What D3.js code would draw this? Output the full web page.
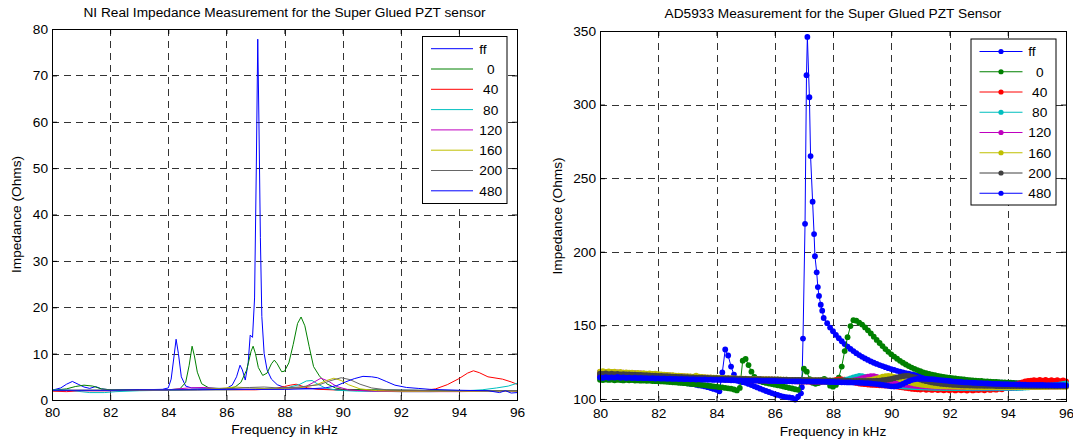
<!DOCTYPE html>
<html>
<head>
<meta charset="utf-8">
<title>Super Glued PZT sensor impedance</title>
<script src="https://cdn.jsdelivr.net/npm/d3@7"></script>
<style>
  body { margin: 0; background: #fff; }
  svg { display: block; font-family: "Liberation Sans", Arial, Helvetica, sans-serif; font-size: 13.7px; }
  .legend text { white-space: pre; }
</style>
</head>
<body>
<svg id="chart" width="1073" height="442"></svg>
<script>
// tick labels
const freqTicks = [80, 82, 84, 86, 88, 90, 92, 94, 96];
const niTicksY = [0, 10, 20, 30, 40, 50, 60, 70, 80];
const adTicksY = [100, 150, 200, 250, 300, 350];

// legend entries (padded like the original legend)
const seriesNames = ['ff', '  0', ' 40', ' 80', '120', '160', '200', '480'];

const niFF = [[80, 2.1], [80.3, 2.6], [80.5, 3.4], [80.7, 4.0], [80.9, 3.4], [81.1, 2.8], [81.3, 2.5], [81.5, 2.9],
  [81.7, 2.4], [82, 2.2], [83, 2.2], [83.8, 2.3], [84.0, 2.6], [84.1, 4.5], [84.2, 9.5], [84.27, 13.1], [84.35, 10],
  [84.45, 5], [84.6, 3], [84.8, 2.6], [85.5, 2.5], [86.0, 2.5], [86.2, 3.2], [86.35, 5.0], [86.47, 7.5], [86.55, 6.5],
  [86.65, 4.3], [86.75, 8], [86.82, 14], [86.9, 13.5], [86.97, 22], [87.03, 50], [87.08, 77.8], [87.12, 60],
  [87.17, 35], [87.22, 18], [87.3, 10], [87.4, 6.5], [87.55, 4.5], [87.75, 3.3], [88, 2.7], [89, 2.4], [90, 2.2],
  [91, 2.1], [92, 2.1], [94, 2.0], [96, 2.0]];
const niT0 = [[80, 2.1], [80.5, 2.4], [80.8, 2.9], [81.1, 3.2], [81.4, 3.0], [81.7, 2.4], [82, 2.2], [83, 2.2], [84, 2.2],
  [84.4, 2.4], [84.6, 3.8], [84.72, 7.5], [84.82, 11.6], [84.9, 9.5], [85.0, 6], [85.15, 3.5], [85.4, 2.6], [86, 2.4],
  [86.3, 2.8], [86.5, 3.8], [86.7, 6.5], [86.85, 10.5], [86.92, 11.6], [87.0, 10], [87.1, 7], [87.25, 5.3], [87.4, 5.8],
  [87.55, 7.8], [87.65, 8.6], [87.75, 7.8], [87.9, 6.1], [88.0, 6.2], [88.15, 8], [88.3, 12], [88.45, 16.5],
  [88.57, 17.9], [88.7, 16], [88.85, 11.5], [89.0, 7.2], [89.2, 5.2], [89.45, 3.5], [89.75, 2.6], [90, 2.3], [91, 2.2],
  [92, 2.1], [96, 2.0]];
const niT40 = [[80, 1.9], [80.5, 1.8], [81, 2.0], [82, 2.0], [83, 2.1], [84, 2.1], [85, 2.2], [86, 2.2], [87, 2.2],
  [87.6, 2.4], [88, 2.9], [88.2, 3.2], [88.4, 3.4], [88.6, 3.0], [88.8, 2.6], [89.2, 2.3], [90, 2.1], [91, 2.0], [92, 1.9],
  [92.8, 2.0], [93.2, 2.4], [93.6, 3.3], [94.0, 4.6], [94.3, 5.8], [94.5, 6.3], [94.7, 5.9], [95.0, 5.0], [95.5, 4.5],
  [95.8, 3.9], [96, 3.4]];
const niT80 = [[80, 2.2], [80.6, 2.1], [81.0, 1.8], [81.3, 1.6], [81.8, 1.6], [82.2, 1.8], [83, 2.0], [84, 2.1], [85, 2.2],
  [86, 2.2], [87, 2.3], [88, 2.5], [88.5, 3.3], [88.75, 4.1], [88.95, 4.2], [89.15, 3.4], [89.4, 2.6], [89.8, 2.1],
  [90.5, 1.9], [92, 1.8], [93, 1.8], [94, 1.9], [94.8, 2.2], [95.3, 2.6], [95.7, 3.0], [96, 3.6]];
const niT120 = [[80, 2.0], [81, 2.0], [82, 2.0], [83, 2.1], [84, 2.2], [84.7, 2.6], [85.2, 2.7], [85.8, 2.4], [86.5, 2.3],
  [87.5, 2.3], [88.2, 2.4], [88.7, 2.8], [89.0, 3.8], [89.25, 4.7], [89.5, 4.1], [89.8, 2.9], [90.2, 2.2], [91, 1.9],
  [92, 1.8], [93, 1.8], [94, 1.8], [95, 1.9], [96, 1.9]];
const niT160 = [[80, 2.0], [81, 2.1], [82, 2.1], [83, 2.1], [84, 2.2], [85, 2.2], [85.8, 2.5], [86.3, 2.8], [86.8, 2.6],
  [87.5, 2.4], [88.5, 2.6], [89.1, 3.3], [89.45, 4.2], [89.7, 4.7], [89.95, 4.2], [90.2, 3.3], [90.6, 2.4], [91.2, 2.0],
  [92, 1.9], [93, 1.9], [94, 1.9], [95, 1.9], [96, 1.9]];
const niT200 = [[80, 2.1], [81, 2.1], [82, 2.1], [83, 2.1], [84, 2.2], [85, 2.3], [86, 2.4], [86.8, 2.7], [87.3, 2.8],
  [87.8, 2.6], [88.5, 2.8], [89.2, 3.3], [89.6, 4.2], [89.95, 4.8], [90.25, 4.4], [90.6, 3.4], [91, 2.6], [91.5, 2.2],
  [92.5, 2.1], [93, 2.0], [94, 2.0], [95, 2.0], [96, 2.0]];
const niT480 = [[80, 2.1], [81, 2.1], [82, 2.1], [83, 2.2], [84, 2.2], [85, 2.2], [86, 2.3], [87, 2.3], [88, 2.3],
  [88.8, 2.4], [89.4, 2.6], [89.8, 3.1], [90.1, 3.9], [90.4, 4.6], [90.7, 5.1], [91.0, 5.0], [91.2, 4.8], [91.5, 4.0],
  [91.8, 3.2], [92.2, 2.7], [92.6, 2.5], [93, 2.3], [94, 2.1], [95, 2.0], [95.4, 1.6], [95.6, 2.0], [95.8, 1.5], [96, 1.6]];

// AD5933 sweep: one value per 0.1 kHz from 80 to 96 kHz (one row per kHz)
const adSweepStart = 80;
const adSweepStep = 0.1;
const adFF = [
  115.0, 115.2, 114.8, 115.1, 114.9, 115.0, 114.7, 115.1, 114.8, 114.9,
  114.7, 114.9, 114.5, 114.6, 114.4, 114.5, 114.2, 114.3, 114.0, 113.9,
  113.7, 113.5, 113.2, 112.9, 112.6, 112.3, 112.0, 111.6, 111.2, 110.9,
  110.6, 110.3, 110.0, 109.6, 109.2, 108.9, 108.5, 108.0, 107.4, 106.8,
  106.2, 105.2, 118.0, 133.6, 129.5, 122.0, 116.5, 112.5, 111.8, 111.4,
  111.0, 110.2, 109.4, 108.6, 107.8, 107.0, 106.2, 105.4, 104.7, 104.0,
  103.3, 102.7, 102.1, 101.6, 101.3, 101.0, 100.7, 99.6, 101.5, 103.8,
  null, null, null, null, null, null, null, null, 151.5, 148.5,
  146.0, 143.5, 141.3, 139.2, 137.3, 135.6, 134.0, 132.5, 131.1, 129.8,
  128.6, 127.5, 126.5, 125.5, 124.6, 123.8, 123.0, 122.3, 121.6, 120.9,
  120.3, 119.7, 119.1, 118.6, 118.1, 117.6, 117.1, 116.7, 116.3, 115.9,
  115.5, 115.2, 114.9, 114.6, 114.3, 114.1, 113.9, 113.7, 113.5, 113.3,
  113.1, 112.9, 112.8, 112.6, 112.5, 112.3, 112.2, 112.1, 112.0, 111.9,
  111.8, 111.7, 111.6, 111.5, 111.4, 111.3, 111.2, 111.1, 111.0, 110.9,
  110.8, 110.8, 110.7, 110.6, 110.5, 110.5, 110.4, 110.3, 110.3, 110.2,
  110.1, 110.1, 110.0, 110.0, 109.9, 109.8, 109.8, 109.7, 109.7, 109.6,
  109.6];
// finer points read around the free-free resonance: [kHz, Ohms]
const adFFPeak = [[86.93, 108.0], [86.97, 141], [87.04, 219], [87.09, 320], [87.12, 346], [87.19, 305], [87.23, 265],
  [87.30, 234], [87.35, 212], [87.38, 197], [87.44, 186], [87.48, 176], [87.52, 170], [87.58, 164], [87.63, 160],
  [87.68, 155]];
const adT0 = [
  113.0, 112.8, 113.2, 112.9, 113.1, 112.7, 113.0, 112.8, 112.6, 112.9,
  112.7, 112.8, 112.5, 112.6, 112.4, 112.5, 112.3, 112.4, 112.2, 112.1,
  112.0, 111.9, 111.8, 111.6, 111.5, 111.3, 111.2, 111.0, 110.9, 110.7,
  110.5, 110.3, 110.1, 109.9, 109.7, 109.5, 109.3, 109.0, 108.8, 108.5,
  108.3, 108.0, 107.8, 107.5, 107.2, 107.0, 106.4, 105.8, 107.5, 126.0,
  127.2, 123.0, 118.5, 115.0, 113.2, 112.0, 111.4, 110.9, 110.5, 110.1,
  109.7, 109.3, 108.9, 108.4, 108.0, 107.5, 107.1, 106.6, 106.2, 112.5,
  120.5, 118.5, 113.5, 111.0, 110.3, 110.8, 112.8, 113.6, 111.5, 109.0,
  108.3, 109.5, 114.5, 122.0, 132.5, 142.0, 149.5, 153.5, 153.2, 151.8,
  150.5, 148.6, 146.6, 144.5, 142.3, 140.1, 138.0, 135.9, 133.9, 132.0,
  130.3, 128.8, 127.3, 125.9, 124.6, 123.4, 122.3, 121.3, 120.4, 119.6,
  118.8, 118.1, 117.5, 117.0, 116.5, 116.1, 115.7, 115.3, 115.0, 114.7,
  114.4, 114.1, 113.9, 113.6, 113.4, 113.2, 113.0, 112.8, 112.6, 112.5,
  112.3, 112.2, 112.0, 111.9, 111.8, 111.6, 111.5, 111.4, 111.3, 111.2,
  111.1, 111.0, 110.9, 110.8, 110.7, 110.6, 110.5, 110.4, 110.3, 110.2,
  110.1, 110.0, 109.9, 109.8, 109.7, 109.6, 109.5, 109.5, 109.4, 109.3,
  109.3];
const adT40 = [
  116.5, 116.8, 116.3, 116.6, 116.2, 116.5, 116.1, 116.4, 116.0, 116.2,
  115.9, 116.1, 115.8, 115.9, 115.6, 115.7, 115.4, 115.5, 115.3, 115.3,
  115.1, 115.0, 114.9, 114.8, 114.7, 114.6, 114.5, 114.4, 114.3, 114.2,
  114.1, 114.0, 113.9, 113.9, 113.8, 113.7, 113.6, 113.6, 113.5, 113.4,
  113.4, 113.3, 113.3, 113.2, 113.1, 113.1, 113.0, 113.0, 112.9, 112.9,
  112.8, 112.8, 112.7, 112.7, 112.6, 112.6, 112.5, 112.5, 112.4, 112.4,
  112.3, 112.3, 112.2, 112.2, 112.1, 112.1, 112.0, 112.0, 111.9, 111.9,
  111.8, 111.8, 111.7, 111.7, 111.6, 111.6, 111.5, 111.6, 111.8, 112.1,
  112.5, 112.9, 113.2, 113.3, 113.1, 112.6, 112.0, 111.4, 110.9, 110.5,
  110.2, 110.0, 109.8, 109.6, 109.5, 109.4, 109.3, 109.2, 109.1, 109.0,
  108.8, 108.6, 108.4, 108.1, 107.8, 107.5, 107.2, 106.9, 106.7, 106.5,
  106.4, 106.8, 106.2, 106.6, 106.1, 106.5, 106.0, 106.4, 105.9, 106.3,
  105.9, 106.4, 105.8, 106.3, 105.9, 106.2, 105.7, 106.3, 105.8, 106.2,
  106.0, 106.4, 105.9, 106.5, 106.1, 106.6, 106.3, 106.9, 106.6, 107.3,
  107.4, 108.2, 108.9, 109.8, 110.6, 111.3, 111.9, 112.2, 112.5, 112.8,
  112.4, 112.9, 112.5, 113.0, 112.3, 112.8, 112.2, 112.7, 112.1, 112.6,
  112.0];
const adT80 = [
  117.8, 118.1, 117.6, 117.9, 117.5, 117.8, 117.3, 117.6, 117.2, 117.4,
  117.0, 117.2, 116.8, 116.9, 116.6, 116.7, 116.4, 116.5, 116.2, 116.2,
  116.0, 115.9, 115.7, 115.6, 115.5, 115.3, 115.2, 115.1, 115.0, 114.8,
  114.7, 114.6, 114.5, 114.4, 114.3, 114.2, 114.1, 114.0, 113.9, 113.9,
  113.8, 113.7, 113.7, 113.6, 113.5, 113.5, 113.4, 113.4, 113.3, 113.3,
  113.2, 113.2, 113.1, 113.1, 113.0, 113.0, 112.9, 112.9, 112.8, 112.8,
  112.7, 112.7, 112.6, 112.6, 112.5, 112.5, 112.4, 112.4, 112.3, 112.3,
  112.2, 112.2, 112.1, 112.1, 112.0, 112.0, 111.9, 111.9, 111.8, 111.8,
  111.8, 111.9, 112.1, 112.4, 112.8, 113.3, 113.9, 114.6, 115.2, 115.6,
  115.5, 115.0, 114.3, 113.5, 112.7, 111.9, 111.2, 110.6, 110.1, 109.7,
  109.4, 109.1, 108.9, 108.7, 108.5, 108.3, 108.2, 108.1, 108.0, 107.9,
  107.8, 107.7, 107.7, 107.6, 107.6, 107.5, 107.5, 107.5, 107.4, 107.4,
  107.4, 107.4, 107.3, 107.3, 107.3, 107.3, 107.3, 107.2, 107.2, 107.2,
  107.2, 107.2, 107.2, 107.2, 107.2, 107.2, 107.2, 107.2, 107.3, 107.3,
  107.3, 107.3, 107.4, 107.4, 107.5, 107.6, 107.7, 107.8, 108.0, 108.1,
  108.3, 108.4, 108.6, 108.8, 109.0, 109.2, 109.4, 109.6, 109.9, 110.2,
  110.5];
const adT120 = [
  118.3, 118.0, 118.4, 118.1, 118.2, 117.9, 118.1, 117.8, 117.9, 117.6,
  117.7, 117.4, 117.5, 117.2, 117.3, 117.0, 117.0, 116.8, 116.8, 116.6,
  116.5, 116.4, 116.2, 116.1, 116.0, 115.8, 115.7, 115.6, 115.5, 115.3,
  115.2, 115.1, 115.0, 114.9, 114.8, 114.7, 114.6, 114.5, 114.4, 114.3,
  114.2, 114.2, 114.1, 114.0, 114.0, 113.9, 113.8, 113.8, 113.7, 113.7,
  113.6, 113.6, 113.5, 113.5, 113.4, 113.4, 113.3, 113.3, 113.2, 113.2,
  113.1, 113.1, 113.0, 113.0, 112.9, 112.9, 112.8, 112.8, 112.7, 112.7,
  112.6, 112.6, 112.5, 112.5, 112.4, 112.4, 112.3, 112.3, 112.2, 112.2,
  112.1, 112.1, 112.0, 112.0, 112.0, 112.1, 112.3, 112.6, 113.0, 113.5,
  114.1, 114.7, 115.2, 115.5, 115.4, 114.9, 114.2, 113.4, 112.6, 111.9,
  111.3, 110.8, 110.4, 110.0, 109.7, 109.5, 109.3, 109.1, 108.9, 108.8,
  108.7, 108.6, 108.5, 108.4, 108.3, 108.3, 108.2, 108.2, 108.1, 108.1,
  108.0, 108.0, 108.0, 107.9, 107.9, 107.9, 107.9, 107.8, 107.8, 107.8,
  107.8, 107.8, 107.8, 107.8, 107.8, 107.8, 107.8, 107.8, 107.8, 107.8,
  107.8, 107.8, 107.8, 107.9, 107.9, 107.9, 108.0, 108.0, 108.0, 108.1,
  108.1, 108.1, 108.2, 108.2, 108.2, 108.3, 108.3, 108.3, 108.4, 108.4,
  108.4];
const adT160 = [
  118.6, 118.9, 118.4, 118.7, 118.3, 118.5, 118.1, 118.3, 117.9, 118.1,
  117.8, 117.9, 117.6, 117.7, 117.4, 117.5, 117.2, 117.3, 117.0, 117.1,
  116.8, 116.7, 116.5, 116.4, 116.2, 116.1, 115.9, 115.8, 115.7, 115.5,
  115.4, 115.3, 115.2, 115.9, 115.1, 114.9, 114.8, 114.7, 114.6, 114.5,
  114.4, 114.3, 114.3, 114.2, 114.1, 114.1, 114.0, 113.9, 113.9, 113.8,
  113.8, 113.7, 113.7, 113.6, 113.6, 113.5, 113.5, 113.4, 113.4, 113.3,
  113.3, 113.2, 113.2, 113.1, 113.1, 113.0, 113.0, 113.0, 112.9, 112.9,
  112.9, 112.8, 112.8, 112.7, 112.7, 112.7, 112.6, 112.6, 112.5, 112.5,
  112.5, 112.4, 112.4, 112.3, 112.3, 112.3, 112.2, 112.2, 112.2, 112.3,
  112.4, 112.5, 112.7, 113.0, 113.4, 113.9, 114.5, 115.1, 115.5, 115.6,
  115.4, 114.9, 114.2, 113.5, 112.8, 112.1, 111.5, 111.0, 110.5, 110.1,
  109.8, 109.5, 109.3, 109.1, 108.9, 108.8, 108.7, 108.6, 108.5, 108.4,
  108.4, 108.3, 108.3, 108.2, 108.2, 108.2, 108.1, 108.1, 108.1, 108.1,
  108.1, 108.0, 108.0, 108.0, 108.0, 108.0, 108.0, 108.0, 108.0, 108.0,
  108.0, 108.0, 108.0, 108.0, 108.0, 108.0, 108.0, 108.0, 108.1, 108.1,
  108.1, 108.1, 108.1, 108.1, 108.2, 108.2, 108.2, 108.2, 108.2, 108.2,
  108.2];
const adT200 = [
  117.2, 117.0, 117.3, 116.9, 117.1, 116.8, 117.0, 116.7, 116.8, 116.6,
  116.7, 116.5, 116.5, 116.3, 116.3, 116.1, 116.1, 116.0, 115.9, 115.8,
  115.7, 115.6, 115.5, 115.4, 115.3, 115.2, 115.1, 115.0, 114.9, 114.8,
  114.8, 114.7, 114.6, 114.5, 114.5, 114.4, 114.3, 114.3, 114.2, 114.1,
  114.1, 114.0, 114.0, 113.9, 113.9, 113.8, 113.8, 113.7, 113.7, 113.6,
  113.6, 113.5, 113.5, 113.5, 113.4, 113.4, 113.3, 113.3, 113.3, 113.2,
  113.2, 113.2, 113.1, 113.1, 113.1, 113.0, 113.0, 113.0, 112.9, 112.9,
  112.9, 112.8, 112.8, 112.8, 112.7, 112.7, 112.7, 112.6, 112.6, 112.6,
  112.5, 112.5, 112.5, 112.4, 112.4, 112.4, 112.3, 112.3, 112.3, 112.2,
  112.2, 112.2, 112.2, 112.2, 112.3, 112.4, 112.5, 112.7, 112.9, 113.2,
  113.6, 114.1, 114.6, 115.1, 115.5, 115.7, 115.6, 115.2, 114.6, 113.9,
  113.2, 112.6, 112.1, 111.6, 111.2, 110.9, 110.6, 110.3, 110.1, 109.9,
  109.8, 109.6, 109.5, 109.4, 109.3, 109.2, 109.2, 109.1, 109.1, 109.0,
  109.0, 109.0, 108.9, 108.9, 108.9, 108.9, 108.8, 108.8, 108.8, 108.8,
  108.8, 108.8, 108.8, 108.8, 108.8, 108.8, 108.8, 108.8, 108.8, 108.8,
  108.8, 108.8, 108.8, 108.8, 108.8, 108.8, 108.8, 108.8, 108.8, 108.8,
  108.8];
const adT480 = [
  114.6, 114.3, 114.8, 114.4, 114.7, 114.5, 114.9, 114.4, 114.6, 114.3,
  114.5, 114.2, 114.4, 114.1, 114.3, 114.1, 114.2, 114.0, 114.1, 113.9,
  114.0, 113.8, 113.9, 113.7, 113.8, 113.6, 113.7, 113.5, 113.6, 113.4,
  113.5, 113.3, 113.4, 113.2, 113.3, 113.1, 113.2, 113.0, 113.1, 112.9,
  113.0, 112.9, 112.9, 112.8, 112.8, 112.7, 112.7, 112.6, 112.6, 112.5,
  112.5, 112.5, 112.4, 112.4, 112.4, 112.3, 112.3, 112.3, 112.2, 112.2,
  112.2, 112.1, 112.1, 112.1, 112.0, 112.0, 112.0, 111.9, 111.9, 111.9,
  111.8, 111.8, 111.8, 111.7, 111.7, 111.7, 111.6, 111.6, 111.6, 111.5,
  111.5, 111.4, 111.4, 111.3, 111.3, 111.2, 111.2, 111.1, 111.1, 111.0,
  110.9, 110.8, 110.7, 110.5, 110.3, 110.1, 109.8, 109.5, 109.2, 108.9,
  108.6, 108.5, 108.7, 109.3, 110.2, 111.2, 112.1, 112.8, 113.3, 113.6,
  113.7, 113.7, 113.6, 113.5, 113.4, 113.2, 113.0, 112.8, 112.6, 112.4,
  112.2, 112.0, 111.8, 111.6, 111.5, 111.3, 111.2, 111.1, 111.0, 110.9,
  110.8, 110.7, 110.6, 110.5, 110.4, 110.3, 110.2, 110.2, 110.1, 110.0,
  110.0, 109.9, 109.9, 109.8, 109.8, 109.7, 109.7, 109.6, 109.6, 109.6,
  109.5, 109.5, 109.5, 109.4, 109.4, 109.4, 109.3, 109.3, 109.3, 109.3,
  109.2];

const app = (function () {
  'use strict';

  const niColors = ['#0000ff', '#008000', '#ff0000', '#00bfbf', '#bf00bf', '#bfbf00', '#666666', '#0000ff'];
  const adColors = ['#0000ff', '#008000', '#ff0000', '#00bfbf', '#bf00bf', '#bfbf00', '#404040', '#0000ff'];

  function sweepPoints (values, extra) {
    const pts = [];
    values.forEach(function (v, i) {
      if (v !== null) pts.push([+(adSweepStart + i * adSweepStep).toFixed(2), v]);
    });
    if (extra) {
      extra.forEach(function (p) { pts.push(p); });
      pts.sort(function (a, b) { return a[0] - b[0]; });
    }
    return pts;
  }

  function init () {
    const svg = d3.select('#chart');

    drawPanel(svg, {
      left: 52, right: 517, top: 29, bottom: 400,
      yDomain: [0, 80],
      yTicks: niTicksY,
      title: 'NI Real Impedance Measurement for the Super Glued PZT sensor',
      titleY: 16.8,
      xLabelY: 433.6,
      yLabelX: 20.8,
      colors: niColors,
      markers: false,
      series: [niFF, niT0, niT40, niT80, niT120, niT160, niT200, niT480],
      legend: { x: 422.5, y: 36.5, w: 84.5, h: 167, row0: 48.7, dy: 20.3, x1: 431, x2: 473, tx: 479.3 }
    });

    drawPanel(svg, {
      left: 600, right: 1066, top: 31, bottom: 401,
      yDomain: [98.6, 350],
      yTicks: adTicksY,
      title: 'AD5933 Measurement for the Super Glued PZT Sensor',
      titleY: 18.1,
      xLabelY: 435.6,
      yLabelX: 561.9,
      colors: adColors,
      markers: true,
      series: [sweepPoints(adFF, adFFPeak), sweepPoints(adT0), sweepPoints(adT40), sweepPoints(adT80),
        sweepPoints(adT120), sweepPoints(adT160), sweepPoints(adT200), sweepPoints(adT480)],
      legend: { x: 971, y: 39, w: 85, h: 166, row0: 51.5, dy: 20.25, x1: 979.5, x2: 1022.5, tx: 1028.3 }
    });
  }

  function drawPanel (svg, cfg) {
    const xScale = d3.scaleLinear()
      .domain([80, 96])
      .range([cfg.left, cfg.right]);

    const yScale = d3.scaleLinear()
      .domain(cfg.yDomain)
      .range([cfg.bottom, cfg.top]);

    const g = svg.append('g');

    // dashed grid
    g.append('g')
      .selectAll('line')
      .data(freqTicks.slice(1, -1))
      .enter()
      .append('line')
      .attr('x1', function (d) { return Math.round(xScale(d)) + 0.5; })
      .attr('x2', function (d) { return Math.round(xScale(d)) + 0.5; })
      .attr('y1', cfg.top)
      .attr('y2', cfg.bottom)
      .attr('stroke', '#333')
      .attr('stroke-dasharray', '7,5');

    g.append('g')
      .selectAll('line')
      .data(cfg.yTicks.filter(function (t) {
        return yScale(t) > cfg.top + 1 && yScale(t) < cfg.bottom - 1;
      }))
      .enter()
      .append('line')
      .attr('x1', cfg.left)
      .attr('x2', cfg.right)
      .attr('y1', function (d) { return Math.round(yScale(d)) + 0.5; })
      .attr('y2', function (d) { return Math.round(yScale(d)) + 0.5; })
      .attr('stroke', '#333')
      .attr('stroke-dasharray', '7,5');

    // series
    const line = d3.line()
      .x(function (d) { return xScale(d[0]); })
      .y(function (d) { return yScale(d[1]); });

    cfg.series.forEach(function (data, i) {
      const sg = g.append('g');
      sg.append('path')
        .datum(data)
        .attr('d', line)
        .attr('fill', 'none')
        .attr('stroke', cfg.colors[i])
        .attr('stroke-width', 1);
      if (cfg.markers) {
        sg.selectAll('circle')
          .data(data)
          .enter()
          .append('circle')
          .attr('cx', function (d) { return xScale(d[0]); })
          .attr('cy', function (d) { return yScale(d[1]); })
          .attr('r', 2.9)
          .attr('fill', cfg.colors[i]);
      }
    });

    // frame
    g.append('rect')
      .attr('x', cfg.left + 0.5)
      .attr('y', cfg.top + 0.5)
      .attr('width', cfg.right - cfg.left)
      .attr('height', cfg.bottom - cfg.top)
      .attr('fill', 'none')
      .attr('stroke', '#000');

    // axes, ticks pointing inside
    const xAxis = d3.axisBottom(xScale)
      .tickValues(freqTicks)
      .tickSize(-5)
      .tickPadding(7)
      .tickFormat(d3.format('d'));
    const yAxis = d3.axisLeft(yScale)
      .tickValues(cfg.yTicks)
      .tickSize(-5)
      .tickPadding(4)
      .tickFormat(d3.format('d'));

    const axes = [
      g.append('g').attr('transform', 'translate(0,' + cfg.bottom + ')').call(xAxis),
      g.append('g').attr('transform', 'translate(0,' + cfg.top + ')')
        .call(d3.axisTop(xScale).tickValues(freqTicks).tickSize(-5).tickFormat('')),
      g.append('g').attr('transform', 'translate(' + cfg.left + ',0)').call(yAxis),
      g.append('g').attr('transform', 'translate(' + cfg.right + ',0)')
        .call(d3.axisRight(yScale).tickValues(cfg.yTicks).tickSize(-5).tickFormat(''))
    ];
    axes.forEach(function (a) {
      a.attr('font-size', null).attr('font-family', null);
      a.select('.domain').remove();
      a.selectAll('text').attr('fill', '#000');
    });

    // title and axis labels
    g.append('text')
      .attr('x', (cfg.left + cfg.right) / 2)
      .attr('y', cfg.titleY)
      .style('text-anchor', 'middle')
      .text(cfg.title);

    g.append('text')
      .attr('x', (cfg.left + cfg.right) / 2)
      .attr('y', cfg.xLabelY)
      .style('text-anchor', 'middle')
      .text('Frequency in kHz');

    g.append('text')
      .attr('transform', 'translate(' + cfg.yLabelX + ', ' + ((cfg.top + cfg.bottom) / 2) + ') rotate(-90)')
      .style('text-anchor', 'middle')
      .text('Impedance (Ohms)');

    // legend
    const lg = g.append('g').attr('class', 'legend');
    const L = cfg.legend;
    lg.append('rect')
      .attr('x', L.x)
      .attr('y', L.y)
      .attr('width', L.w)
      .attr('height', L.h)
      .attr('fill', '#fff')
      .attr('stroke', '#000');

    const rows = lg.selectAll('g.row')
      .data(seriesNames)
      .enter()
      .append('g')
      .attr('class', 'row')
      .attr('transform', function (d, i) { return 'translate(0,' + (L.row0 + i * L.dy) + ')'; });

    rows.append('line')
      .attr('x1', L.x1)
      .attr('x2', L.x2)
      .attr('stroke', function (d, i) { return cfg.colors[i]; });

    if (cfg.markers) {
      rows.append('circle')
        .attr('cx', (L.x1 + L.x2) / 2)
        .attr('r', 2.6)
        .attr('fill', function (d, i) { return cfg.colors[i]; });
    }

    rows.append('text')
      .attr('x', L.tx)
      .attr('dy', '0.36em')
      .text(function (d) { return d; });
  }

  return {
    init: init
  };
}());

window.addEventListener('load', app.init);
</script>
</body>
</html>
